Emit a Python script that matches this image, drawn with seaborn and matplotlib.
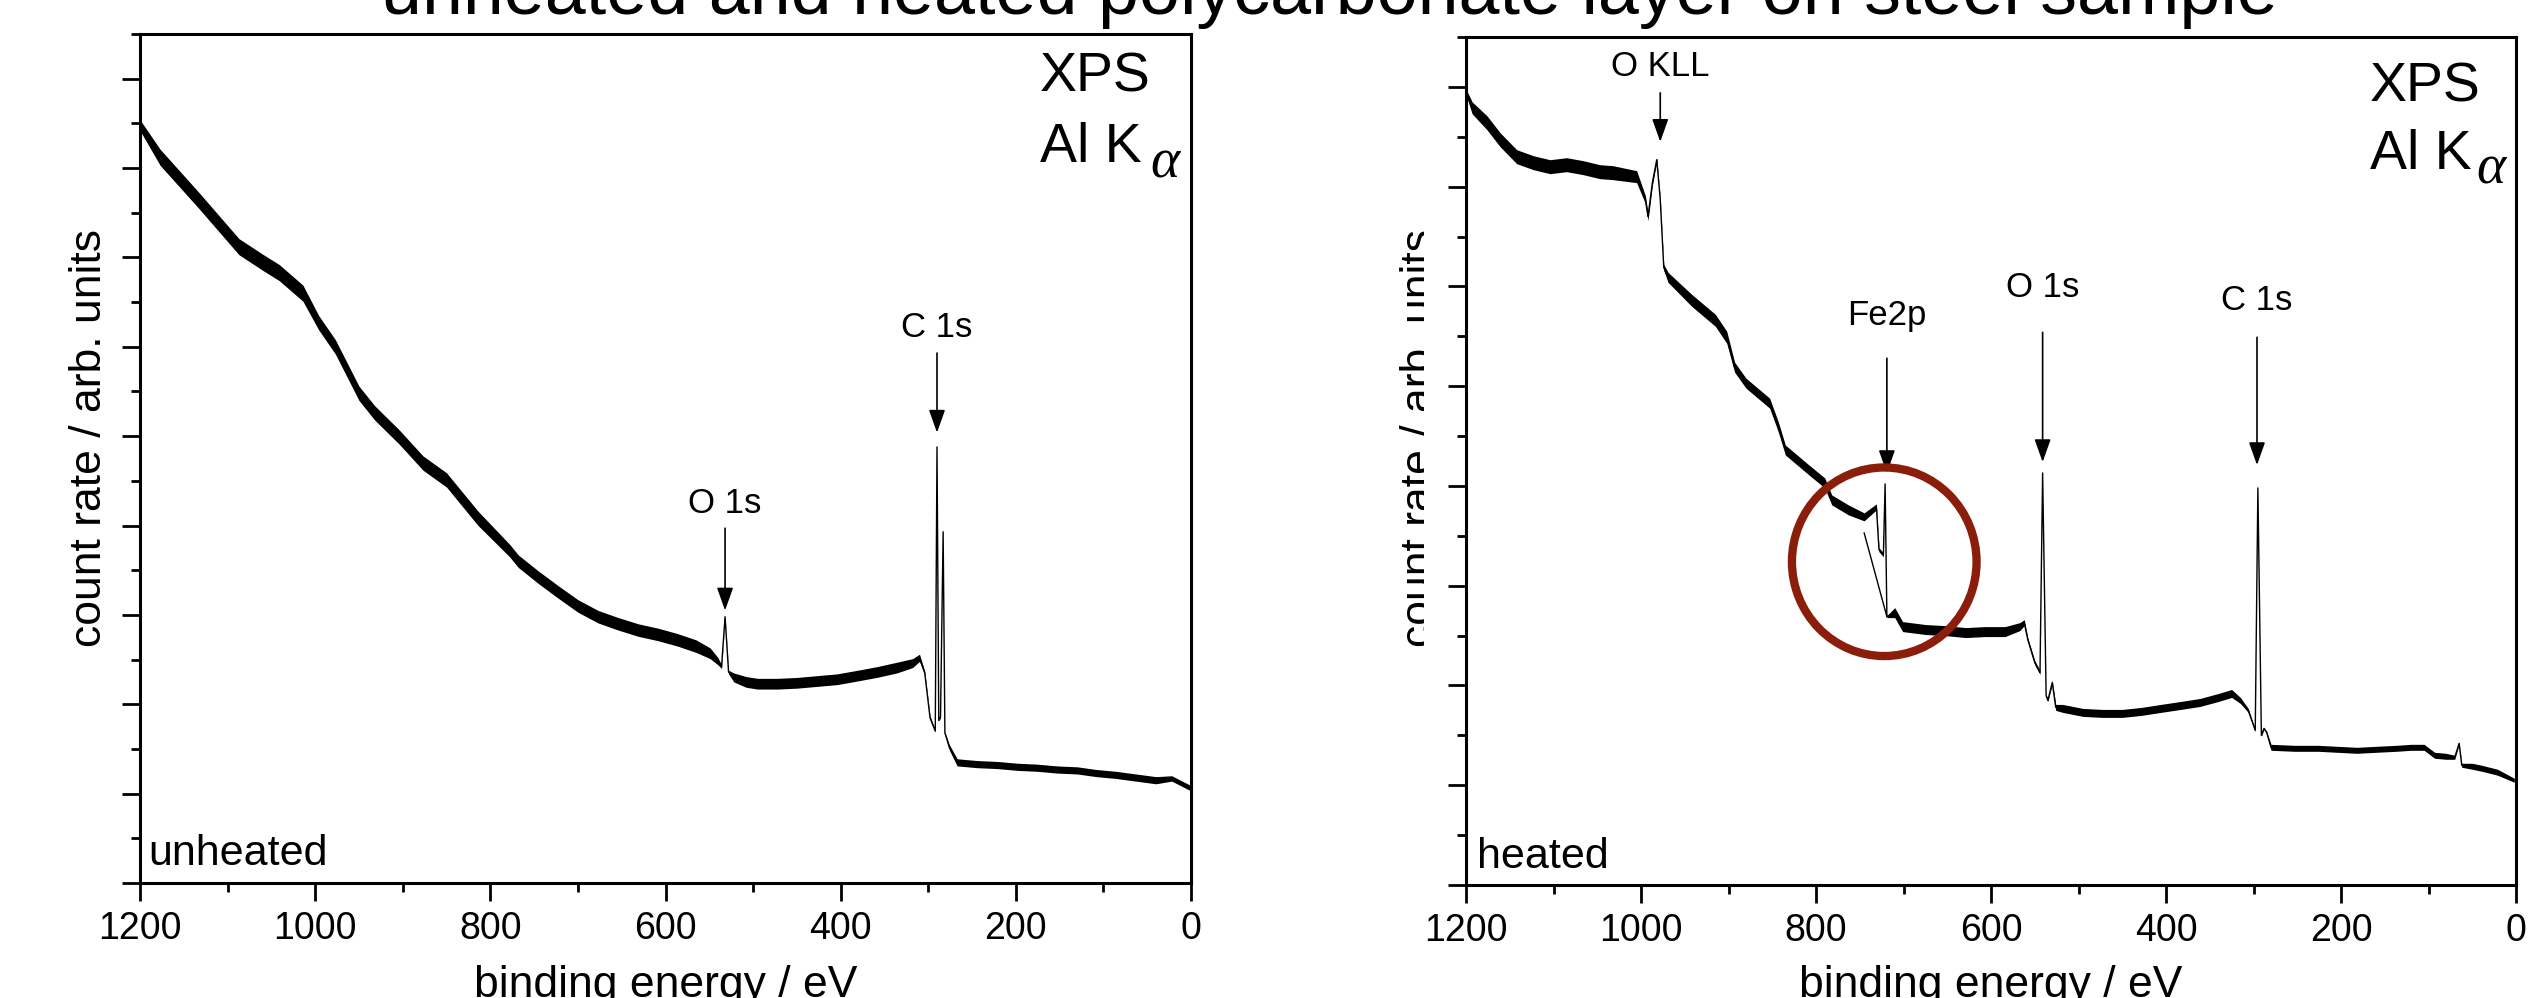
import numpy as np
import seaborn as sns
import matplotlib.pyplot as plt
from matplotlib.patches import Ellipse
from matplotlib.transforms import Bbox

# ---- data (binding energy in eV, count rate in arb. units) ----
unheated_energy = [1200, 1177, 1155, 1133, 1110, 1087, 1059, 1041, 1014, 996, 977, 950,
                   932, 904, 877, 850, 814, 778, 768, 745, 723, 700, 677, 654, 631, 608,
                   586, 565, 549, 540, 536, 532, 528, 522, 508, 495, 472, 450, 427, 404,
                   381, 359, 336, 318, 310, 304, 298, 292, 290, 288, 286, 283, 281, 276,
                   267, 244, 221, 198, 176, 153, 130, 108, 86, 63, 40, 22, 10, 0]
unheated_counts = [8.48, 8.12, 7.88, 7.64, 7.38, 7.12, 6.94, 6.83, 6.60, 6.27, 6.00, 5.48,
                   5.26, 4.99, 4.70, 4.51, 4.08, 3.72, 3.60, 3.42, 3.26, 3.10, 2.98, 2.90,
                   2.83, 2.78, 2.72, 2.65, 2.57, 2.48, 2.42, 2.98, 2.36, 2.30, 2.25, 2.23,
                   2.23, 2.24, 2.26, 2.28, 2.32, 2.36, 2.41, 2.46, 2.52, 2.35, 1.85, 1.70,
                   4.88, 1.82, 1.86, 3.93, 1.68, 1.52, 1.35, 1.33, 1.32, 1.30, 1.29, 1.27,
                   1.26, 1.23, 1.21, 1.18, 1.15, 1.17, 1.11, 1.06]
# half width of the noise band around the trace
unheated_noise = [0.06, 0.09, 0.09, 0.09, 0.09, 0.09, 0.09, 0.09, 0.09, 0.08, 0.08, 0.08,
                  0.08, 0.08, 0.08, 0.08, 0.08, 0.07, 0.07, 0.07, 0.07, 0.07, 0.07, 0.07,
                  0.07, 0.07, 0.07, 0.07, 0.06, 0.04, 0.02, 0.01, 0.02, 0.05, 0.06, 0.06,
                  0.06, 0.06, 0.06, 0.06, 0.06, 0.06, 0.06, 0.05, 0.04, 0.02, 0.02, 0.01,
                  0.0, 0.01, 0.01, 0.0, 0.01, 0.03, 0.04, 0.04, 0.04, 0.04, 0.04, 0.04,
                  0.04, 0.04, 0.04, 0.04, 0.04, 0.03, 0.03, 0.03]

heated_energy = [1200, 1193, 1176, 1161, 1142, 1123, 1104, 1085, 1066, 1047, 1032, 1005,
                 995, 992, 987, 982, 978, 974, 969, 942, 915, 902, 893, 880, 853, 843,
                 835, 808, 790, 782, 763, 745, 731, 728, 723, 721, 719, 710, 701, 674,
                 652, 629, 607, 584, 567, 562, 558, 550, 544, 541, 537, 535, 530, 526,
                 518, 495, 473, 450, 428, 406, 383, 361, 340, 325, 315, 306, 298, 295,
                 291, 288, 285, 280, 253, 226, 204, 182, 160, 137, 120, 105, 93, 80,
                 70, 65, 62, 50, 39, 21, 2]
heated_counts = [7.95, 7.79, 7.64, 7.47, 7.30, 7.24, 7.20, 7.22, 7.19, 7.15, 7.14, 7.10,
                 6.87, 6.70, 7.04, 7.27, 6.87, 6.19, 6.09, 5.86, 5.66, 5.49, 5.19, 5.03,
                 4.83, 4.59, 4.36, 4.16, 4.03, 3.86, 3.76, 3.69, 3.79, 3.36, 3.31, 4.02,
                 2.69, 2.73, 2.59, 2.56, 2.55, 2.53, 2.54, 2.54, 2.59, 2.63, 2.46, 2.23,
                 2.13, 4.13, 1.90, 1.85, 2.03, 1.78, 1.77, 1.73, 1.72, 1.72, 1.74, 1.77,
                 1.80, 1.83, 1.88, 1.92, 1.85, 1.75, 1.55, 3.98, 1.50, 1.57, 1.53, 1.38,
                 1.37, 1.37, 1.36, 1.35, 1.36, 1.37, 1.38, 1.38, 1.30, 1.29, 1.28, 1.42,
                 1.20, 1.19, 1.17, 1.13, 1.05]
heated_noise = [0.03, 0.06, 0.07, 0.07, 0.07, 0.07, 0.07, 0.07, 0.07, 0.07, 0.07, 0.06,
                0.04, 0.04, 0.03, 0.02, 0.02, 0.03, 0.05, 0.06, 0.06, 0.06, 0.05, 0.05,
                0.05, 0.05, 0.05, 0.05, 0.05, 0.05, 0.05, 0.04, 0.03, 0.02, 0.02, 0.0,
                0.01, 0.05, 0.05, 0.05, 0.05, 0.05, 0.05, 0.05, 0.04, 0.03, 0.02, 0.02,
                0.02, 0.0, 0.01, 0.01, 0.02, 0.03, 0.04, 0.04, 0.04, 0.04, 0.04, 0.04,
                0.04, 0.04, 0.04, 0.04, 0.03, 0.02, 0.01, 0.0, 0.01, 0.01, 0.01, 0.03,
                0.03, 0.03, 0.03, 0.03, 0.03, 0.03, 0.03, 0.03, 0.03, 0.03, 0.02, 0.01,
                0.02, 0.03, 0.03, 0.03, 0.02]

# second, smooth pass through the Fe2p region
fe_branch_energy = [745, 719]
fe_branch_counts = [3.53, 2.69]

x_ticks = [1200, 1000, 800, 600, 400, 200, 0]

# peak markers: label, energy, label height, arrow start, arrow tip
unheated_peaks = [("C 1s", 290, 6.22, 5.93, 5.04),
                  ("O 1s", 532, 4.25, 3.97, 3.05)]
heated_peaks = [("O KLL", 978, 8.20, 7.94, 7.45),
                ("Fe2p", 719, 5.71, 5.28, 4.13),
                ("O 1s", 541, 5.99, 5.54, 4.24),
                ("C 1s", 296, 5.86, 5.49, 4.21)]

title = "unheated and heated polycarbonate layer on steel sample"

# ---- figure ----
sns.set_style("ticks")
plt.rcParams['font.family'] = ['Liberation Sans', 'DejaVu Sans']
plt.rcParams.update({'text.color': 'black', 'axes.labelcolor': 'black',
                     'xtick.color': 'black', 'ytick.color': 'black'})

W, H = 2528, 998
fig = plt.figure(figsize=(W / 100, H / 100), dpi=100)


def px_axes(l, t, r, b):
    return fig.add_axes([l / W, 1 - b / H, (r - l) / W, (b - t) / H])


def draw_panel(ax, energy, counts, noise, ytop, peaks, label_y):
    e = np.array(energy)
    c = np.array(counts)
    n = np.array(noise)
    ax.fill_between(e, c - n, c + n, color='black', lw=0)
    sns.lineplot(x=energy, y=counts, sort=False, estimator=None, color='black',
                 lw=1.0, ax=ax)
    for name, en, ty, y0, y1 in peaks:
        ax.text(en, ty, name, ha='center', va='center', fontsize=25)
        ax.annotate('', xy=(en, y1), xytext=(en, y0),
                    arrowprops=dict(arrowstyle='-|>,head_length=0.7,head_width=0.25',
                                    color='black', lw=1.2, shrinkA=0, shrinkB=0,
                                    mutation_scale=20))
    ax.set_xlim(1200, 0)
    ax.set_ylim(0, ytop)
    ax.set_xticks(x_ticks)
    ax.set_xticks(range(1100, 0, -200), minor=True)
    ax.set_yticks(np.arange(0, ytop, 1.0))
    ax.set_yticks(np.arange(0.5, ytop + 0.01, 1.0), minor=True)
    ax.set_yticklabels([])
    ax.set_ylabel('')
    ax.tick_params(which='major', direction='out', length=13, width=2,
                   labelsize=27, pad=7, top=False, right=False)
    ax.tick_params(which='minor', direction='out', length=6.5, width=2,
                   top=False, right=False)
    for s in ax.spines.values():
        s.set_linewidth(2.2)
        s.set_color('black')
    ax.set_xlabel('binding energy / eV', fontsize=32, va='baseline')
    ax.xaxis.set_label_coords(0.5, label_y)


ax1 = px_axes(140, 34, 1191, 883)
ax2 = px_axes(1466, 37, 2516, 885)

draw_panel(ax1, unheated_energy, unheated_counts, unheated_noise, 9.5,
           unheated_peaks, (883 - 997) / 849)
draw_panel(ax2, heated_energy, heated_counts, heated_noise, 8.5,
           heated_peaks, (885 - 997) / 848)
sns.lineplot(x=fe_branch_energy, y=fe_branch_counts, sort=False, estimator=None,
             color='black', lw=1.0, ax=ax2)
ax2.set_xlim(1200, 0)

ax2.add_patch(Ellipse((722, 3.24), 211, 1.89, fill=False, lw=6,
                      edgecolor='#8b1d0b', zorder=5))

# y labels (the right one is partly covered in the original)
fig.text(101 / W, 1 - 438 / H, 'count rate / arb. units', rotation=90,
         rotation_mode='anchor', ha='center', va='baseline', fontsize=32)
t = fig.text(1432 / W, 1 - 438 / H, 'count rate / arb. units', rotation=90,
             rotation_mode='anchor', ha='center', va='baseline', fontsize=32)
t.set_clip_box(Bbox.from_extents(0, 0, 1424, H))
t.set_clip_on(True)

# XPS / Al K alpha labels
for x0, y_xps, y_al, x_alpha in [(1040, 92, 162, 1150), (2370, 102, 169, 2476)]:
    fig.text(x0 / W, 1 - y_xps / H, 'XPS', fontsize=40, va='baseline')
    fig.text(x0 / W, 1 - y_al / H, 'Al K', fontsize=40, va='baseline')
    fig.text(x_alpha / W, 1 - (y_al + 15) / H, '\u03b1', fontsize=40, va='baseline',
             family='Liberation Serif', style='italic')

fig.text(148 / W, 1 - 865 / H, 'unheated', fontsize=31, va='baseline')
fig.text(1477 / W, 1 - 868 / H, 'heated', fontsize=31, va='baseline')

fig.text(1329 / W, 1 - 14 / H, title, fontsize=53, ha='center', va='baseline')

fig.savefig('out.png', dpi=100)
